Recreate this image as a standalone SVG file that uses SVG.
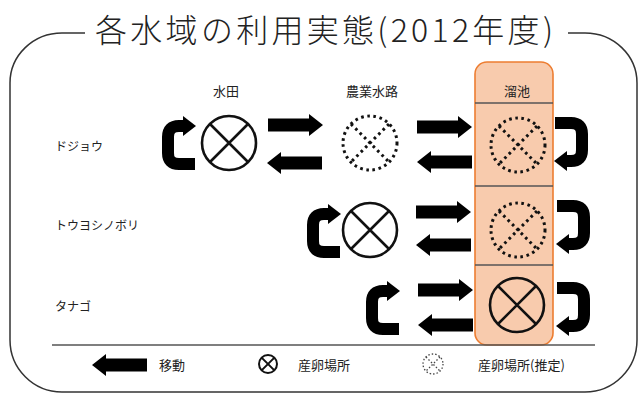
<svg xmlns="http://www.w3.org/2000/svg" xmlns:xlink="http://www.w3.org/1999/xlink" width="639" height="395" viewBox="0 0 639 395">
<style>
.t{font-family:"Noto Sans CJK JP","Noto Sans",sans-serif;fill:#222}
.hdr{font-size:13px;text-anchor:middle}
.row{font-size:12px}
.leg{font-size:13px}
.solid{fill:none;stroke:#111;stroke-width:2.6}
.dot{fill:none;stroke:#111;stroke-width:3;stroke-dasharray:2.6 3.6}
.frame{fill:none;stroke:#333;stroke-width:1.5}
</style>
<defs>
<g id="arrowR"><path d="M0 -6.5 H41 V-11 L55 0 L41 11 V6.5 H0 Z" fill="#000"/></g>
<g id="loop"><path d="M23 9 H17 Q6 9 6 20 V36 Q6 47 17 47 H33" fill="none" stroke="#000" stroke-width="12"/><polygon points="21,-1 34,9 21,19" fill="#000"/></g>
<g id="xs"><circle r="27" class="solid"/><path d="M-19 -19 L19 19 M19 -19 L-19 19" class="solid"/></g>
<g id="xd"><circle r="27" class="dot"/><path d="M-19 -19 L19 19 M19 -19 L-19 19" class="dot"/></g>
</defs>
<rect width="639" height="395" fill="#fff"/>
<g id="frame">
<path class="frame" d="M85 33 H62 A52 50 0 0 0 10 83 V340 A52 52 0 0 0 62 392 H585 A52 52 0 0 0 637 340 V83 A52 50 0 0 0 585 33 H568"/>
<text class="t" x="95" y="42" font-size="32" font-weight="300" fill="#111" textLength="458" lengthAdjust="spacing">各水域の利用実態(2012年度)</text>
</g>
<g id="pond-column">
<rect x="475" y="62" width="78" height="283" rx="12" fill="#F8CBAD" stroke="#ED7D31" stroke-width="1.6"/>
<path d="M475 103 H553 M475 186 H553 M475 265 H553" stroke="#555" stroke-width="1.5"/>
</g>
<g id="headers">
<text class="t hdr" x="226" y="96">水田</text>
<text class="t hdr" x="372" y="96">農業水路</text>
<text class="t hdr" x="517" y="96">溜池</text>
</g>
<g id="row-labels">
<text class="t row" x="55" y="151">ドジョウ</text>
<text class="t row" x="55" y="230">トウヨシノボリ</text>
<text class="t row" x="55" y="311">タナゴ</text>
</g>
<g id="node-dojou-paddy"><use xlink:href="#xs" transform="translate(229,143)"/></g>
<g id="node-dojou-channel"><use xlink:href="#xd" transform="translate(370,143)"/></g>
<g id="node-dojou-pond"><use xlink:href="#xd" transform="translate(518,145)"/></g>
<g id="node-goby-channel"><use xlink:href="#xs" transform="translate(370,230)"/></g>
<g id="node-goby-pond"><use xlink:href="#xd" transform="translate(518,230)"/></g>
<g id="node-tanago-pond"><use xlink:href="#xs" transform="translate(517,305)"/></g>
<g id="connectors">
<use xlink:href="#loop" transform="translate(162,117)"/>
<use xlink:href="#arrowR" transform="translate(268,125)"/>
<use xlink:href="#arrowR" transform="translate(322,163) rotate(180)"/>
<use xlink:href="#arrowR" transform="translate(417,127)"/>
<use xlink:href="#arrowR" transform="translate(472,162) rotate(180)"/>
<use xlink:href="#loop" transform="translate(588,170) rotate(180)"/>
<use xlink:href="#loop" transform="translate(307,205)"/>
<use xlink:href="#arrowR" transform="translate(416,212)"/>
<use xlink:href="#arrowR" transform="translate(471,245) rotate(180)"/>
<use xlink:href="#loop" transform="translate(590,253) rotate(180)"/>
<use xlink:href="#loop" transform="translate(366,282)"/>
<use xlink:href="#arrowR" transform="translate(418,290)"/>
<use xlink:href="#arrowR" transform="translate(473,325) rotate(180)"/>
<use xlink:href="#loop" transform="translate(590,335) rotate(180)"/>
</g>
<g id="legend">
<path d="M52 345 H595" stroke="#555" stroke-width="1.5"/>
<use xlink:href="#arrowR" transform="translate(147,365) rotate(180)"/>
<text class="t leg" x="159" y="370">移動</text>
<g transform="translate(268,364)"><circle r="9" fill="none" stroke="#111" stroke-width="2"/><path d="M-6.4 -6.4 L6.4 6.4 M6.4 -6.4 L-6.4 6.4" stroke="#111" stroke-width="2"/></g>
<text class="t leg" x="298" y="370">産卵場所</text>
<g transform="translate(433,364)"><circle r="10" fill="none" stroke="#444" stroke-width="1.3" stroke-dasharray="1.5 2"/><path d="M-7 -7 L7 7 M7 -7 L-7 7" stroke="#444" stroke-width="1.3" stroke-dasharray="1.5 2"/></g>
<text class="t leg" x="478" y="370">産卵場所(推定)</text>
</g>
</svg>
